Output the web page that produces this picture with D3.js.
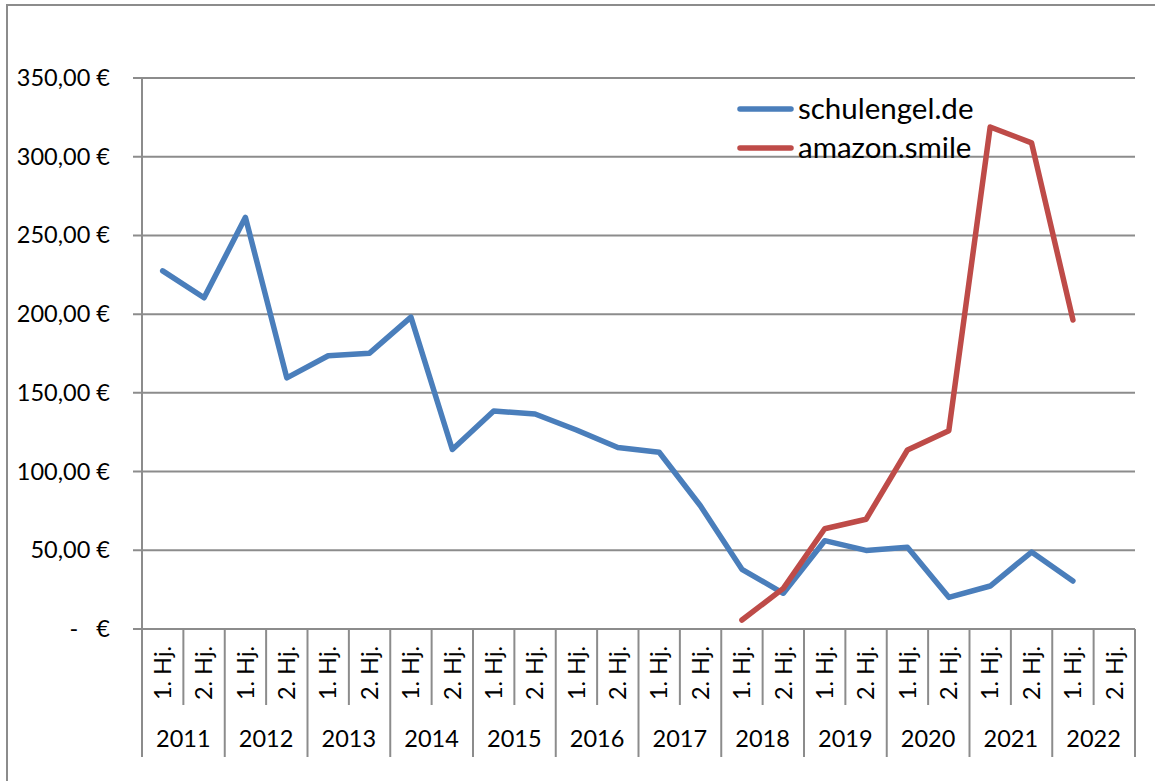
<!DOCTYPE html>
<html>
<head>
<meta charset="utf-8">
<script src="https://cdn.jsdelivr.net/npm/d3@7"></script>
<style>
  body { margin: 0; background: #fff; }
  svg { display: block; font-family: Lato, "Open Sans", sans-serif; }
</style>
</head>
<body>
<svg id="chart" width="1155" height="781"></svg>
<script>
const years = ["2011", "2012", "2013", "2014", "2015", "2016", "2017", "2018", "2019", "2020", "2021", "2022"];
const halves = ["1. Hj.", "2. Hj."];
const yTicks = [0, 50, 100, 150, 200, 250, 300, 350];

// one value per half-year, null = no data
const schulengel = [227.5, 210.4, 261.5, 159.5, 173.6, 175.2, 198.1, 114.0, 138.5, 136.6, 126.4, 115.3,
  112.3, 78.1, 37.9, 22.7, 56.1, 49.9, 51.9, 20.1, 27.3, 48.9, 30.5, null];
const amazonSmile = [null, null, null, null, null, null, null, null, null, null, null, null,
  null, null, 5.7, 25.8, 63.7, 69.7, 113.7, 126.0, 318.9, 308.8, 196.3, null];

const series = [
  { name: "schulengel.de", values: schulengel, color: "#4a7ebb" },
  { name: "amazon.smile", values: amazonSmile, color: "#be4b48" },
];

const cats = years.flatMap(y => halves.map(h => ({ year: y, half: h })));

const svg = d3.select("#chart");
const gridColor = "#8c8c8c";

// outer frame (right/bottom fall outside the picture)
svg.append("rect")
  .attr("x", 7).attr("y", 5)
  .attr("width", 1170).attr("height", 800)
  .attr("fill", "none")
  .attr("stroke", gridColor)
  .attr("stroke-width", 2);

const x = d3.scaleBand()
  .domain(d3.range(cats.length))
  .range([142, 1135]);

const y = d3.scaleLinear()
  .domain([0, 350])
  .range([629, 78]);

const de = d3.formatLocale({ decimal: ",", thousands: ".", grouping: [3], currency: ["", " €"] });
const money = de.format("$,.2f");

// gridlines
svg.append("g")
  .selectAll("line")
  .data(yTicks)
  .join("line")
  .attr("x1", 133).attr("x2", 1135)
  .attr("y1", d => y(d)).attr("y2", d => y(d))
  .attr("stroke", gridColor)
  .attr("stroke-width", 2);

// y axis
const yAxis = svg.append("g")
  .attr("transform", "translate(142,0)")
  .call(d3.axisLeft(y)
    .tickValues(yTicks)
    .tickSize(0)
    .tickPadding(32)
    .tickFormat(d => d === 0 ? "-   €" : money(d)));
yAxis.select(".domain").remove();
yAxis.selectAll("text")
  .attr("font-size", 23.5)
  .attr("fill", "#000")
  .style("white-space", "pre")
  .attr("font-family", "Lato, 'Open Sans', sans-serif");

// vertical axis line incl. extension under the categories
svg.append("line")
  .attr("x1", 142).attr("x2", 142)
  .attr("y1", 78).attr("y2", 757)
  .attr("stroke", gridColor)
  .attr("stroke-width", 2);

// category separators
const bounds = d3.range(1, cats.length + 1);
svg.append("g")
  .selectAll("line")
  .data(bounds)
  .join("line")
  .attr("x1", k => x(k - 1) + x.bandwidth())
  .attr("x2", k => x(k - 1) + x.bandwidth())
  .attr("y1", 629)
  .attr("y2", k => k % 2 === 0 ? 757 : 705)
  .attr("stroke", gridColor)
  .attr("stroke-width", 2);

// half-year labels
const xAxis = svg.append("g")
  .attr("transform", "translate(0,629)")
  .call(d3.axisBottom(x).tickSize(0).tickFormat(i => cats[i].half));
xAxis.select(".domain").remove();
xAxis.selectAll("text")
  .attr("font-size", 23.5)
  .attr("fill", "#000")
  .attr("font-family", "Lato, 'Open Sans', sans-serif")
  .attr("text-anchor", "middle")
  .attr("transform", "translate(0,44) rotate(-90)")
  .attr("x", 0).attr("y", 0)
  .attr("dy", "0.35em");

// year labels
svg.append("g")
  .selectAll("text")
  .data(years)
  .join("text")
  .attr("x", (d, i) => x(i * 2) + x.bandwidth())
  .attr("y", 739)
  .attr("dy", "0.35em")
  .attr("text-anchor", "middle")
  .attr("font-size", 23.5)
  .text(d => d);

// lines
const line = d3.line()
  .defined(d => d != null)
  .x((d, i) => x(i) + x.bandwidth() / 2)
  .y(d => y(d));

svg.append("g")
  .selectAll("path")
  .data(series)
  .join("path")
  .attr("d", s => line(s.values))
  .attr("fill", "none")
  .attr("stroke", s => s.color)
  .attr("stroke-width", 5.5)
  .attr("stroke-linejoin", "round")
  .attr("stroke-linecap", "round");

// legend
const legend = svg.append("g")
  .selectAll("g")
  .data(series)
  .join("g")
  .attr("transform", (d, i) => `translate(738,${109 + i * 39})`);
legend.append("line")
  .attr("x1", 2).attr("x2", 53)
  .attr("stroke", d => d.color)
  .attr("stroke-width", 5.5)
  .attr("stroke-linecap", "round");
legend.append("text")
  .attr("x", 60)
  .attr("dy", "0.35em")
  .attr("font-size", 29.5)
  .text(d => d.name);
</script>
</body>
</html>
